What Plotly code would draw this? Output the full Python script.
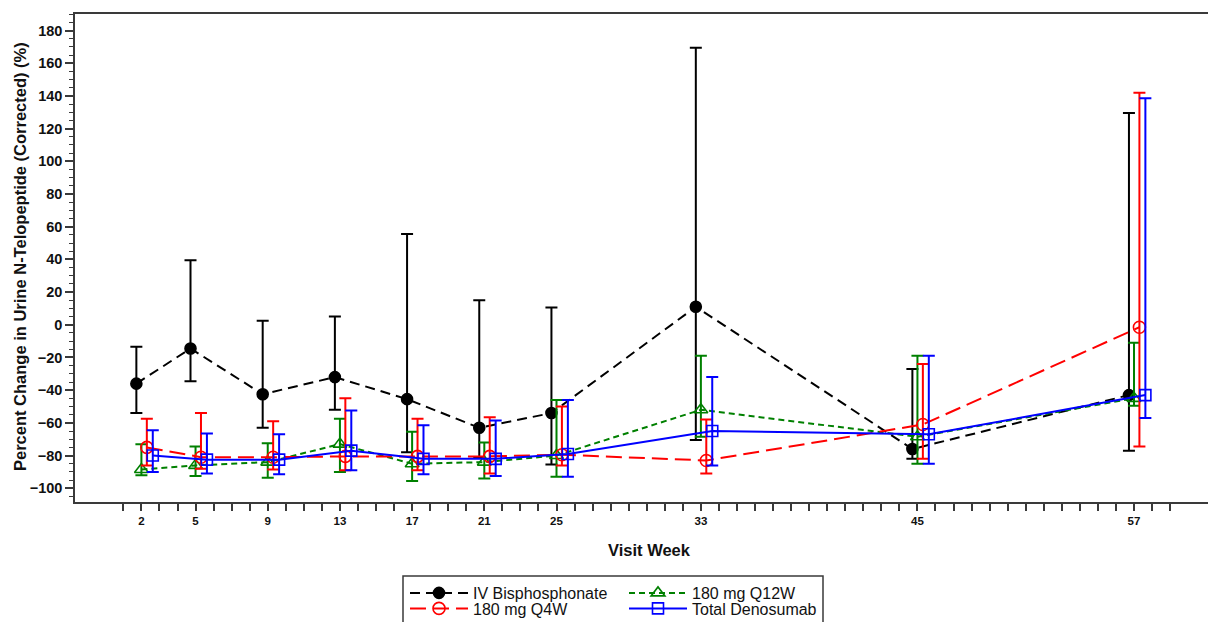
import plotly.graph_objects as go

# ---------------- data ----------------
visit_weeks = [2, 5, 9, 13, 17, 21, 25, 33, 45, 57]
minor_weeks = list(range(1, 60))

bis_mean = [-36, -14.5, -42.5, -32, -45.5, -63, -54, 11, -76, -43]
bis_lo = [-54, -34.5, -63, -52, -78, -81.5, -85.5, -70.5, -82, -77]
bis_hi = [-13.5, 39.5, 2.5, 5, 55.5, 15, 10.5, 169.5, -27, 129.5]

q12w_mean = [-88.5, -86, -84, -73, -85, -84, -80, -52, -68.5, -45]
q12w_lo = [-92, -92.5, -93.5, -90, -95.5, -94, -93, -68.5, -85, -49.5]
q12w_hi = [-73, -74.5, -72.5, -57.5, -65.5, -72, -46, -19, -19, -11]

q4w_mean = [-75, -81, -81, -80.5, -80.5, -80.5, -79.5, -83, -61, -1.5]
q4w_lo = [-86, -88, -88.5, -89, -89, -91, -86, -91, -82, -74.5]
q4w_hi = [-57.5, -54, -59, -45, -57.5, -56.5, -50, -58, -24, 142]

den_mean = [-80, -82.5, -82.5, -77, -82, -82, -79, -65, -67, -43]
den_lo = [-90, -91, -91.5, -89, -91.5, -92.5, -93, -86, -85, -57]
den_hi = [-64.5, -66.5, -67, -52.5, -61.5, -58.5, -46, -32, -19, 138.5]

y_ticks = list(range(-100, 181, 20))

# ---------------- styles ----------------
FONT = "Liberation Sans, Arial, sans-serif"
AX = "#3a3a3a"

series = [
    dict(name="IV Bisphosphonate", mean=bis_mean, lo=bis_lo, hi=bis_hi, color="#000000",
         symbol="circle", size=11, dash="10px,6px", dodge=-0.28, legend="legend"),
    dict(name="180 mg Q12W", mean=q12w_mean, lo=q12w_lo, hi=q12w_hi, color="#008000",
         symbol="triangle-up-open", size=12, dash="6px,4px", dodge=0.0, legend="legend"),
    dict(name="180 mg Q4W", mean=q4w_mean, lo=q4w_lo, hi=q4w_hi, color="#ff0000",
         symbol="circle-open", size=12, dash="16px,7px", dodge=0.3, legend="legend2"),
    dict(name="Total Denosumab", mean=den_mean, lo=den_lo, hi=den_hi, color="#0000ff",
         symbol="square-open", size=11, dash="solid", dodge=0.63, legend="legend2"),
]

fig = go.Figure()
for s in series:
    xs = [w + s["dodge"] for w in visit_weeks]
    fig.add_trace(go.Scatter(
        x=xs, y=s["mean"], name=s["name"], mode="lines+markers",
        legend=s["legend"],
        line=dict(color=s["color"], width=2, dash=s["dash"]),
        marker=dict(symbol=s["symbol"], size=s["size"], color=s["color"],
                    line=dict(color=s["color"], width=1.6)),
        error_y=dict(type="data", symmetric=False,
                     array=[h - m for h, m in zip(s["hi"], s["mean"])],
                     arrayminus=[m - l for m, l in zip(s["mean"], s["lo"])],
                     color=s["color"], thickness=2, width=6),
    ))

W, H = 1208, 622
L, R, T, B = 75, 0, 14, 120
pw, ph = W - L - R, H - T - B


def px_x(x):
    return (x - L) / pw


def px_y(y):
    return (H - B - y) / ph


tick_text = [str(w) if w in visit_weeks else "" for w in minor_weeks]

legend_common = dict(orientation="h", xanchor="left", yanchor="top",
                     bgcolor="rgba(0,0,0,0)", borderwidth=0,
                     font=dict(family=FONT, size=16, color="#111111"),
                     itemwidth=58, entrywidth=146, itemclick=False)

fig.update_layout(
    width=W, height=H,
    margin=dict(l=L, r=R, t=T, b=B, autoexpand=False),
    paper_bgcolor="white", plot_bgcolor="white",
    font=dict(family=FONT, color="#111111"),
    showlegend=True,
    legend=dict(x=px_x(405), y=px_y(576), **legend_common),
    legend2=dict(x=px_x(405), y=px_y(591.5), **legend_common),
    xaxis=dict(range=[-1.68, 61.1], tickmode="array", tickvals=minor_weeks, ticktext=tick_text,
               ticks="outside", ticklen=7, tickwidth=1.5, tickcolor=AX,
               showline=True, linecolor=AX, linewidth=1.5, mirror=True,
               showgrid=False, zeroline=False,
               tickfont=dict(family=FONT, size=11.5, color="#111111", weight="bold")),
    yaxis=dict(range=[-108.4, 190.1], tickmode="array", tickvals=y_ticks,
               ticks="outside", ticklen=8, tickwidth=1.5, tickcolor=AX,
               showline=True, linecolor=AX, linewidth=1.5, mirror=False,
               showgrid=False, zeroline=False,
               minor=dict(dtick=5, ticks="outside", ticklen=4, tickwidth=1.2, tickcolor=AX, showgrid=False),
               tickfont=dict(family=FONT, size=14.5, color="#111111", weight="bold")),
    shapes=[dict(type="rect", xref="paper", yref="paper",
                 x0=px_x(403), x1=px_x(823), y0=px_y(576), y1=px_y(640),
                 line=dict(color=AX, width=1.5), fillcolor="rgba(0,0,0,0)", layer="below")],
    annotations=[
        dict(text="Visit Week", xref="paper", yref="paper", x=px_x(649), y=px_y(550),
             xanchor="center", yanchor="middle", showarrow=False,
             font=dict(family=FONT, size=16.5, color="#111111", weight="bold")),
        dict(text="Percent Change in Urine N-Telopeptide (Corrected) (%)", xref="paper", yref="paper",
             x=px_x(20), y=px_y(257), xanchor="center", yanchor="middle", textangle=-90,
             showarrow=False, font=dict(family=FONT, size=16.5, color="#111111", weight="bold")),
    ],
)

fig.write_html("out.html")
